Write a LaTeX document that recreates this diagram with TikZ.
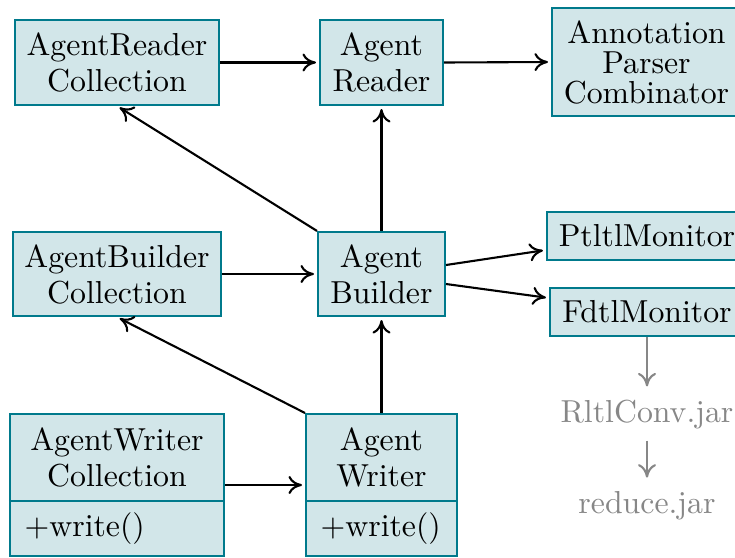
\documentclass[tikz,border=0pt]{standalone}
\usetikzlibrary{arrows.meta,calc}
\definecolor{boxfill}{RGB}{210,230,233}
\definecolor{boxline}{RGB}{0,122,140}
\definecolor{toolgray}{RGB}{135,135,135}
\tikzset{
  every node/.style={font=\fontsize{10.6}{12}\selectfont},
  cls/.style={draw=boxline, fill=boxfill, line width=0.7pt, align=center, inner sep=1pt},
  link/.style={-{To[length=4.5pt,width=6pt]}, line width=0.7pt, shorten >=1pt},
  toollink/.style={link, draw=toolgray},
  tool/.style={text=toolgray, inner sep=3.5pt},
  plain/.style={inner sep=0pt, align=center},
}
\begin{document}
% one unit = one third of a point, y pointing down
\begin{tikzpicture}[x=0.33333pt, y=-0.33333pt]
\useasboundingbox (0,0) rectangle (735,557);

% readers
\node[cls, minimum width=68pt, minimum height=28.3pt] (rcoll) at (117,62.5) {AgentReader\\Collection};
\node[cls, minimum width=41pt, minimum height=28.3pt] (reader) at (381.5,62.5) {Agent\\Reader};
\node[cls, minimum width=63pt, minimum height=36pt] (annot) at (646.5,62) {Annotation\\[-2pt]Parser\\[-2pt]Combinator};

% builders
\node[cls, minimum width=69.3pt, minimum height=28pt] (bcoll) at (117,274) {AgentBuilder\\Collection};
\node[cls, minimum width=42.3pt, minimum height=28pt] (builder) at (381.5,274) {Agent\\Builder};

% monitors
\node[cls, minimum width=66.7pt, minimum height=16pt] (ptltl) at (647,236) {PtltlMonitor};
\node[cls, minimum width=64.7pt, minimum height=16pt] (fdtl) at (647,312) {FdtlMonitor};

% writers: class boxes with an operation compartment
\node[cls, minimum width=71.3pt, minimum height=47.3pt] (wcoll) at (117,485) {};
\coordinate (wcollsplit) at (117,501);
\draw[boxline, line width=0.7pt] (wcoll.west |- wcollsplit) -- (wcoll.east |- wcollsplit);
\node[plain] (wcolltitle) at (117,457.5) {AgentWriter\\Collection};
\node[plain, anchor=west] (wcollop) at (24,528.5) {+write()};

\node[cls, minimum width=50.3pt, minimum height=47.3pt] (writer) at (381.5,485) {};
\coordinate (writersplit) at (381.5,501);
\draw[boxline, line width=0.7pt] (writer.west |- writersplit) -- (writer.east |- writersplit);
\node[plain] (writertitle) at (381.5,457.5) {Agent\\Writer};
\node[plain, anchor=west] (writerop) at (320,528.5) {+write()};

% external tools
\node[tool] (rltl) at (647,415) {RltlConv.jar};
\node[tool] (reduce) at (647,506) {reduce.jar};

% connectors
\draw[link] (rcoll.east) -- (reader.west);
\draw[link] (reader.east) -- (annot.west);
\draw[link] (bcoll.east) -- (builder.west);
\draw[link] (wcoll.east) -- (writer.west);
\draw[link] (builder.north) -- (reader.south);
\draw[link] (builder.north west) -- (rcoll.south);
\draw[link] (writer.north) -- (builder.south);
\draw[link] (writer.north west) -- (bcoll.south);
\draw[link] ($(builder.east)+(0,-9)$) -- ($(ptltl.west)+(0,14)$);
\draw[link] ($(builder.east)+(0,10)$) -- ($(fdtl.west)+(0,-14)$);
\draw[toollink] (fdtl.south) -- (rltl.north);
\draw[toollink] (rltl.south) -- (reduce.north);
\end{tikzpicture}
\end{document}
